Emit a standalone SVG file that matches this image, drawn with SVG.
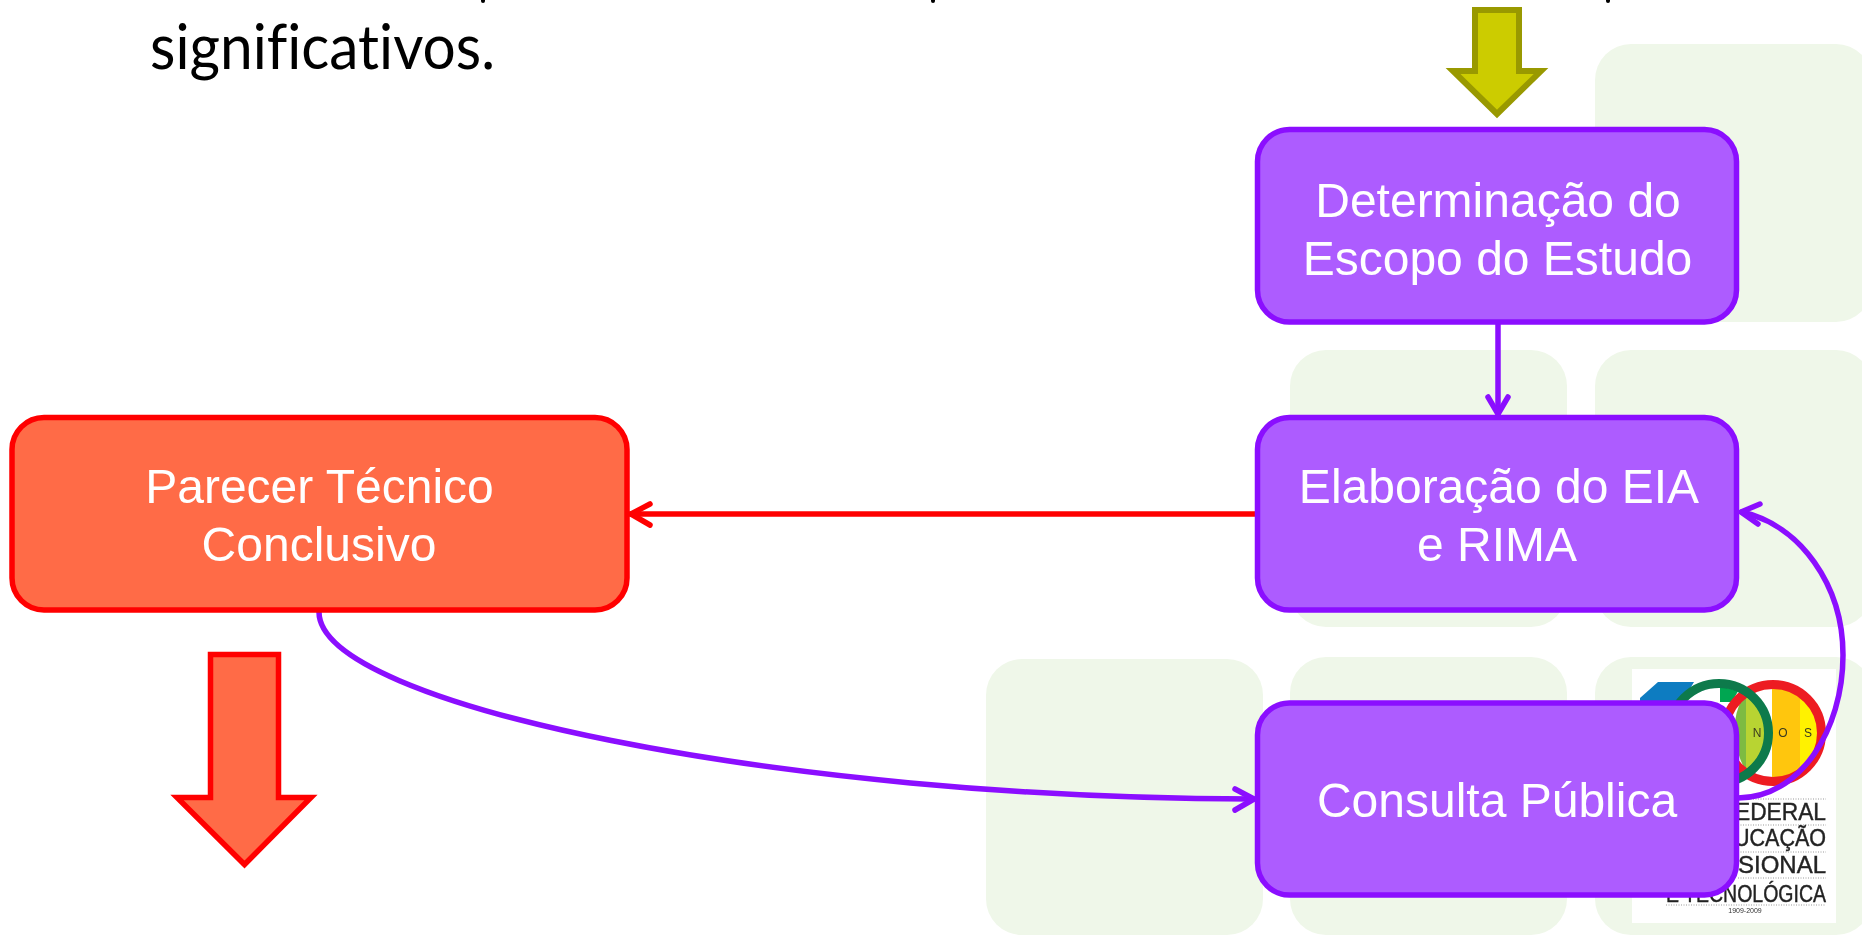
<svg xmlns="http://www.w3.org/2000/svg" width="1862" height="935" viewBox="0 0 1862 935">
<style>
.bg{fill:#EFF7E9}
.p{fill:#AD5CFF;stroke:#8B0EFF;stroke-width:5.5}
.r{fill:#FF6B47;stroke:#FF0000;stroke-width:5.5}
.t{font-family:"Liberation Sans",Arial,sans-serif;font-size:48px;fill:#fff;text-anchor:middle}
.c{fill:none;stroke-width:5.5;stroke-linecap:round;stroke-linejoin:round}
.cp{stroke:#8B0EFF}
.cr{stroke:#FF0000}
.lg{font-family:"Liberation Sans",Arial,sans-serif;font-size:23px;fill:#222;stroke:#222;stroke-width:.4;text-anchor:end}
.dot{stroke:#999;stroke-width:1;stroke-dasharray:1 1.5}
.nos{font-family:"Liberation Sans",Arial,sans-serif;font-size:12px;fill:#3a3a20;text-anchor:middle}
</style>
<defs>
<clipPath id="greenIn"><circle cx="1719" cy="733" r="46"/></clipPath>
<clipPath id="redIn"><circle cx="1773" cy="733" r="45"/></clipPath>
<filter id="soft" x="-5%" y="-5%" width="110%" height="110%"><feGaussianBlur stdDeviation="0.5"/></filter>
</defs>
<g id="background">
<rect class="bg" x="1595" y="44" width="277" height="278" rx="36"/>
<rect class="bg" x="1290" y="350" width="277" height="277" rx="36"/>
<rect class="bg" x="1595" y="350" width="277" height="277" rx="36"/>
<rect class="bg" x="986" y="659" width="277" height="276" rx="36"/>
<rect class="bg" x="1290" y="657" width="277" height="278" rx="36"/>
<rect class="bg" x="1595" y="657" width="277" height="278" rx="36"/>
</g>
<g id="logo">
<rect x="1632" y="669" width="204" height="254" fill="#fff"/>
<g filter="url(#soft)">
<polygon points="1640,698 1658,682 1694,682 1682,702 1640,702" fill="#0A7CC1"/>
<g clip-path="url(#redIn)">
<rect x="1772" y="680" width="28" height="106" fill="#FFC60B"/>
<rect x="1800" y="680" width="24" height="106" fill="#FFF200"/>
</g>
<g clip-path="url(#greenIn)">
<circle cx="1773" cy="733" r="50" fill="#fff"/>
<path d="M1743,697 Q1725,730 1745,770 L1746,790 L1775,790 L1775,680 L1750,680 Z" fill="#7DBB43"/>
<rect x="1746" y="680" width="30" height="110" fill="#B8D432"/>
<polygon points="1720,684 1742,684 1732,702 1720,702" fill="#00A651"/>
</g>
<circle cx="1773" cy="733" r="48.5" fill="none" stroke="#ED1C24" stroke-width="9"/>
<circle cx="1719" cy="733" r="49.5" fill="none" stroke="#0B7A4B" stroke-width="9"/>
<text class="nos" x="1757" y="737">N</text>
<text class="nos" x="1783" y="737">O</text>
<text class="nos" x="1808" y="737">S</text>
<line class="dot" x1="1738" y1="799" x2="1826" y2="799"/>
<line class="dot" x1="1738" y1="825" x2="1826" y2="825"/>
<line class="dot" x1="1738" y1="852" x2="1826" y2="852"/>
<line class="dot" x1="1738" y1="878" x2="1826" y2="878"/>
<line class="dot" x1="1666" y1="905" x2="1826" y2="905"/>
<text class="lg" x="1826" y="820" textLength="91" lengthAdjust="spacingAndGlyphs">EDERAL</text>
<text class="lg" x="1826" y="846" textLength="92" lengthAdjust="spacingAndGlyphs">UCAÇÃO</text>
<text class="lg" x="1826" y="873" textLength="88" lengthAdjust="spacingAndGlyphs">SIONAL</text>
<text class="lg" x="1826" y="902" textLength="160" lengthAdjust="spacingAndGlyphs">E TECNOLÓGICA</text>
<text x="1745" y="913" font-family="Liberation Sans,Arial,sans-serif" font-size="7" fill="#333" text-anchor="middle">1909-2009</text>
</g>
</g>
<g id="heading">
<rect x="481" y="-3" width="4" height="6" rx="2" fill="#000"/>
<rect x="931" y="-3" width="4" height="6" rx="2" fill="#000"/>
<rect x="1606" y="-3" width="4" height="6" rx="2" fill="#000"/>
<text x="150" y="69" font-family="Lato,'Open Sans',sans-serif" font-size="61" fill="#000" textLength="345" lengthAdjust="spacingAndGlyphs" style="font-variant-ligatures:none">significativos.</text>
</g>
<g id="connectors">
<path class="c cp" d="M319,612 C319,705.5 787,799 1253,799"/>
<path class="c cp" d="M1235,789 L1254,799 L1235,810"/>
<path class="c cp" d="M1498,324 L1498,413"/>
<path class="c cp" d="M1488,397 L1498,414 L1508,397"/>
<path class="c cr" d="M1255,514 L630,514"/>
<path class="c cr" d="M650,504 L631,514 L650,525"/>
<path class="c cp" d="M1738,798 C1800,798 1843,730 1843,655 C1843,585 1800,525 1742,512"/>
<path class="c cp" d="M1760,504 L1741,512 L1758,524"/>
</g>
<g id="arrow-top"><polygon points="1475,10 1519,10 1519,71 1541,71 1497,114 1453,71 1475,71" fill="#CCCC00" stroke="#999900" stroke-width="6"/></g>
<g id="arrow-bottom"><polygon points="210.5,654.5 278.5,654.5 278.5,797.5 311,797.5 244.5,864.5 177,797.5 210.5,797.5" class="r"/></g>
<g id="node-escopo"><rect class="p" x="1257.5" y="129.5" width="479" height="192.5" rx="32"/>
<text class="t" x="1498" y="217">Determinação do</text><text class="t" x="1497.5" y="275">Escopo do Estudo</text></g>
<g id="node-eia"><rect class="p" x="1257.5" y="417.5" width="479" height="192.5" rx="32"/>
<text class="t" x="1499" y="503">Elaboração do EIA</text><text class="t" x="1497" y="561">e RIMA</text></g>
<g id="node-consulta"><rect class="p" x="1257.5" y="703" width="479" height="192" rx="32"/>
<text class="t" x="1497" y="817">Consulta Pública</text></g>
<g id="node-parecer"><rect class="r" x="12" y="417.5" width="615" height="192.5" rx="32"/>
<text class="t" x="319.5" y="503">Parecer Técnico</text><text class="t" x="319" y="561">Conclusivo</text></g>
</svg>
